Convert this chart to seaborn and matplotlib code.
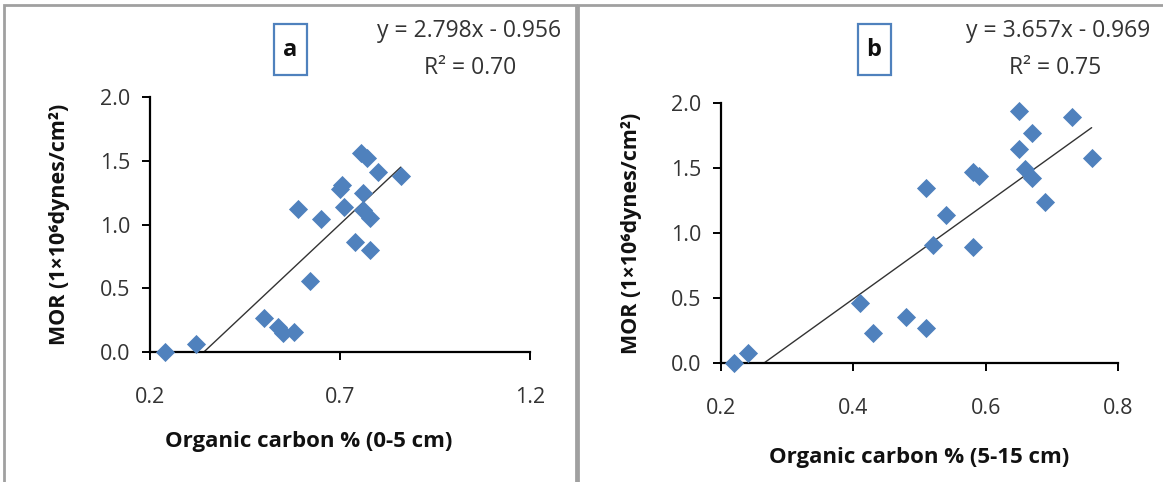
import numpy as np
import matplotlib
matplotlib.use("Agg")
import matplotlib.pyplot as plt
import seaborn as sns
from matplotlib.patches import Rectangle

sns.set_style("white")
plt.rcParams["font.family"] = ["Open Sans", "DejaVu Sans"]

# panel a: organic carbon 0-5 cm vs MOR
oc_a = [0.24, 0.32, 0.50, 0.538, 0.549, 0.58, 0.62, 0.59, 0.65, 0.70, 0.705,
        0.71, 0.76, 0.755, 0.77, 0.80, 0.86, 0.76, 0.78, 0.74, 0.78]
mor_a = [0.00, 0.06, 0.27, 0.195, 0.15, 0.16, 0.56, 1.12, 1.04, 1.28, 1.31,
         1.14, 1.25, 1.56, 1.52, 1.41, 1.38, 1.11, 1.05, 0.86, 0.80]

# panel b: organic carbon 5-15 cm vs MOR
oc_b = [0.22, 0.24, 0.41, 0.43, 0.48, 0.51, 0.51, 0.54, 0.52, 0.58, 0.58,
        0.59, 0.65, 0.65, 0.67, 0.66, 0.67, 0.69, 0.73, 0.76]
mor_b = [0.00, 0.08, 0.46, 0.23, 0.35, 0.27, 1.35, 1.14, 0.91, 0.89, 1.47,
         1.44, 1.94, 1.65, 1.77, 1.49, 1.42, 1.24, 1.89, 1.58]

# trendline coefficients as printed
fit_a = (2.798, -0.956, "0.70")
fit_b = (3.657, -0.969, "0.75")

BLUE = "#4F81BD"
TXT = "#333333"
ylabel = "MOR (1×10⁶dynes/cm²)"

fig = plt.figure(figsize=(11.63, 4.82), dpi=100)

panels = [
    (oc_a, mor_a, fit_a, "a", "Organic carbon % (0-5 cm)",
     [0.129, 0.2697, 0.3267, 0.529], (0.2, 1.2), [0.2, 0.7, 1.2],
     (290, 50), (469, 31), (470, 68), (0.418, -0.31), (-0.21, 0.5)),
    (oc_b, mor_b, fit_b, "b", "Organic carbon % (5-15 cm)",
     [0.620, 0.2469, 0.3414, 0.5394], (0.2, 0.8), [0.2, 0.4, 0.6, 0.8],
     (874, 50), (1058, 31), (1055, 68), (0.5, -0.325), (-0.20, 0.5)),
]

for x, y, (m, b, r2), tag, xlab, pos, xlim, xticks, boxc, eq1, eq2, xl, yl in panels:
    ax = fig.add_axes(pos)
    xs = np.array([min(x), max(x)])
    sns.lineplot(x=xs, y=m * xs + b, ax=ax, color="#333333", lw=1.0)
    sns.scatterplot(x=x, y=y, ax=ax, marker="D", s=95, color=BLUE,
                    linewidth=0, zorder=5)
    for c in ax.collections:
        c.set_clip_on(False)
    ax.set_xlim(*xlim)
    ax.set_ylim(0, 2.0)
    ax.set_xticks(xticks)
    ax.set_xticklabels([f"{t:.1f}" for t in xticks])
    ax.set_yticks([0, 0.5, 1.0, 1.5, 2.0])
    ax.set_yticklabels(["0.0", "0.5", "1.0", "1.5", "2.0"])
    sns.despine(ax=ax)
    for s in ["left", "bottom"]:
        ax.spines[s].set_color("black")
        ax.spines[s].set_linewidth(1.6)
    ax.tick_params(direction="out", length=6, width=1.4, colors="black",
                   labelsize=15.5, labelcolor=TXT, pad=8, left=True, bottom=True)
    ax.tick_params(axis="x", pad=19)
    ax.set_xlabel(xlab, fontsize=16, fontweight="bold", color="#111111")
    ax.set_ylabel(ylabel, fontsize=15.5, fontweight="bold", color="#111111")
    ax.xaxis.set_label_coords(*xl)
    ax.yaxis.set_label_coords(*yl)

    W, H = 1163, 482
    fig.text(boxc[0] / W, 1 - boxc[1] / H, tag, fontsize=17, fontweight="bold",
             ha="center", va="center", color="#111111")
    fig.add_artist(Rectangle(((boxc[0] - 16) / W, 1 - (boxc[1] + 25) / H),
                             33 / W, 51 / H, transform=fig.transFigure,
                             fill=False, edgecolor=BLUE, lw=1.6))
    fig.text(eq1[0] / W, 1 - eq1[1] / H, f"y = {m:.3f}x - {abs(b):.3f}",
             fontsize=16.5, ha="center", va="center", color=TXT)
    fig.text(eq2[0] / W, 1 - eq2[1] / H, f"R² = {r2}",
             fontsize=16.5, ha="center", va="center", color=TXT)

# panel frames
fig.add_artist(Rectangle((4 / 1163, -0.01), 572 / 1163, 1 - 5 / 482 + 0.01,
                         transform=fig.transFigure, fill=False,
                         edgecolor="#A0A0A0", lw=2.0))
fig.add_artist(Rectangle((578 / 1163, -0.01), 600 / 1163, 1 - 5 / 482 + 0.01,
                         transform=fig.transFigure, fill=False,
                         edgecolor="#A0A0A0", lw=2.0))

fig.savefig("out.png", dpi=100)
